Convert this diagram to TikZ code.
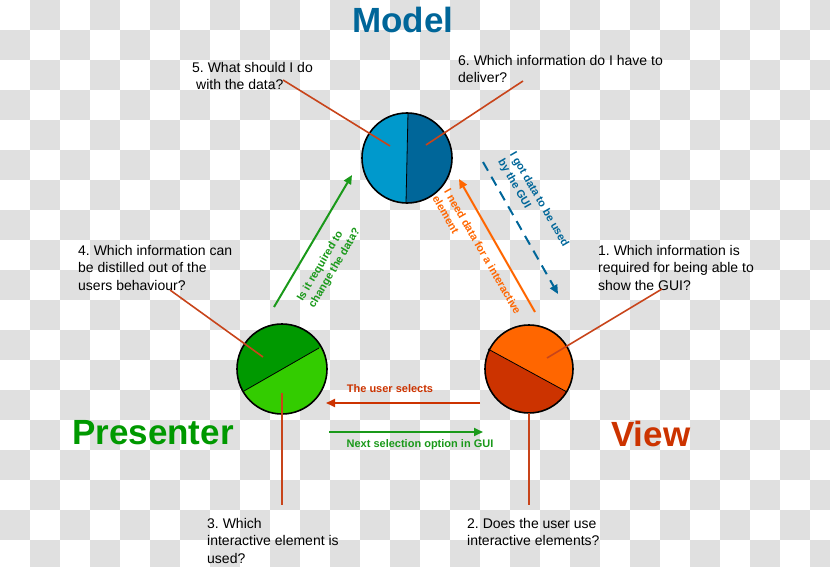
\documentclass[tikz,border=0pt]{standalone}
\usepackage{fontspec}
\setmainfont{Liberation Sans}
\usepackage{xcolor}
\definecolor{checkgray}{RGB}{224,224,224}
\definecolor{modelblue}{RGB}{0,102,153}
\definecolor{modellight}{RGB}{0,153,204}
\definecolor{presdark}{RGB}{0,153,0}
\definecolor{preslight}{RGB}{51,204,0}
\definecolor{viewdark}{RGB}{204,51,0}
\definecolor{viewlight}{RGB}{255,102,0}
\definecolor{leaderred}{RGB}{200,68,26}
\definecolor{arrowgreen}{RGB}{26,153,26}
\usepackage{tikz}
\usetikzlibrary{arrows.meta}
\frenchspacing

\tikzset{
  question/.style={font=\fontsize{14}{17.5}\selectfont, align=left, anchor=north west, inner sep=0pt},
  title/.style={font=\fontsize{35}{35}\selectfont\bfseries, inner sep=0pt},
  arrowlbl/.style={font=\fontsize{11}{13.5}\selectfont\bfseries, align=left, inner sep=0pt},
  leader/.style={line width=1.6pt, leaderred},
  rim/.style={line width=1.6pt, black},
  flow/.style={->, line width=2pt}
}

\begin{document}
\begin{tikzpicture}[x=1pt, y=-1pt, >={Triangle[length=9pt,width=8pt]}]
    \useasboundingbox (0,0) rectangle (830,567);
    \begin{scope}
      \clip (0,0) rectangle (830,567);
      \foreach \i in {0,...,27}
        \foreach \j in {0,...,18}
          {\pgfmathtruncatemacro{\cellodd}{mod(\i+\j,2)}
           \ifnum\cellodd=1 \fill[checkgray] (30*\i,30*\j) rectangle ++(30,30); \fi}
    \end{scope}

    \node[title, text=modelblue, anchor=base] (model-title) at (403,33) {Model};
    \node[title, text=presdark, anchor=base west] (pres-title) at (72,444) {Presenter};
    \node[title, text=viewdark, anchor=base west] (view-title) at (611,446) {View};

    \coordinate (model) at (407,158);
    \fill[modellight] (model) circle (45pt);
    \begin{scope}
      \clip (model) circle (45pt);
      \fill[modelblue] (408.3,100) -- (405.7,215) -- (460,215) -- (460,100) -- cycle;
    \end{scope}
    \draw[thick] (408,113) -- (406,203);
    \draw[rim] (model) circle (45pt);

    \coordinate (pres) at (282,369);
    \fill[preslight] (pres) circle (45pt);
    \begin{scope}
      \clip (pres) circle (45pt);
      \fill[presdark] (230,399) -- (335,338.8) -- (335,310) -- (230,310) -- cycle;
    \end{scope}
    \draw[thick] (244,391) -- (319,348);
    \draw[rim] (pres) circle (45pt);

    \coordinate (view) at (529,369);
    \fill[viewdark] (view) circle (44pt);
    \begin{scope}
      \clip (view) circle (44pt);
      \fill[viewlight] (475,341.9) -- (585,401.8) -- (585,315) -- (475,315) -- cycle;
    \end{scope}
    \draw[thick] (488,349) -- (567,392);
    \draw[rim] (view) circle (44pt);

    \node[question] (q5) at (192,62) {5. What should I do\\\hspace*{4pt}with the data?};
    \node[question] (q6) at (458,55) {6. Which information do I have to\\deliver?};
    \node[question] (q4) at (78,245) {4. Which information can\\be distilled out of the\\users behaviour?};
    \node[question] (q1) at (598,245) {1. Which information is\\required for being able to\\show the GUI?};
    \node[question] (q3) at (207,518) {3. Which\\interactive element is\\used?};
    \node[question] (q2) at (467,518) {2. Does the user use\\interactive elements?};

    \coordinate (q5-end) at (283,80);
    \coordinate (q6-end) at (523,81);
    \coordinate (q4-end) at (170,290);
    \coordinate (q1-end) at (662,289);
    \coordinate (q3-end) at (282,505);
    \coordinate (q2-end) at (529,505);
    \coordinate (model-l) at (390,146);
    \coordinate (model-r) at (426,145);
    \coordinate (pres-t) at (263,357);
    \coordinate (pres-b) at (282,393);
    \coordinate (view-t) at (547,358);
    \coordinate (view-b) at (529,413);
    \draw[leader] (q5-end) -- (model-l);
    \draw[leader] (q6-end) -- (model-r);
    \draw[leader] (q4-end) -- (pres-t);
    \draw[leader] (q1-end) -- (view-t);
    \draw[leader] (pres-b) -- (q3-end);
    \draw[leader] (view-b) -- (q2-end);

    \coordinate (change-from) at (274,307);
    \coordinate (change-to) at (352,175);
    \coordinate (need-from) at (535,312);
    \coordinate (need-to) at (459,179);
    \coordinate (got-from) at (483,162);
    \coordinate (got-to) at (558,294);
    \coordinate (select-from) at (480,403);
    \coordinate (select-to) at (326,403);
    \coordinate (next-from) at (329,432);
    \coordinate (next-to) at (483,432);
    \draw[flow, arrowgreen] (change-from) -- (change-to);
    \draw[flow, viewlight] (need-from) -- (need-to);
    \draw[flow, modelblue, dash pattern=on 10pt off 7pt] (got-from) -- (got-to);
    \draw[flow, viewdark] (select-from) -- (select-to);
    \draw[flow, arrowgreen] (next-from) -- (next-to);

    \node[arrowlbl, text=arrowgreen, rotate=59.4] (change-lbl) at (329,265) {Is it required to\\change the data?};
    \node[arrowlbl, text=viewlight, rotate=-60] (need-lbl) at (477,255) {I need data for a interactive\\element};
    \node[arrowlbl, text=modelblue, rotate=-60] (got-lbl) at (533,203) {I got data to be used\\by the GUI};
    \node[arrowlbl, text=viewdark, anchor=base] (select-lbl) at (390,392) {The user selects};
    \node[arrowlbl, text=arrowgreen, anchor=base] (next-lbl) at (420,447) {Next selection option in GUI};
\end{tikzpicture}
\end{document}
